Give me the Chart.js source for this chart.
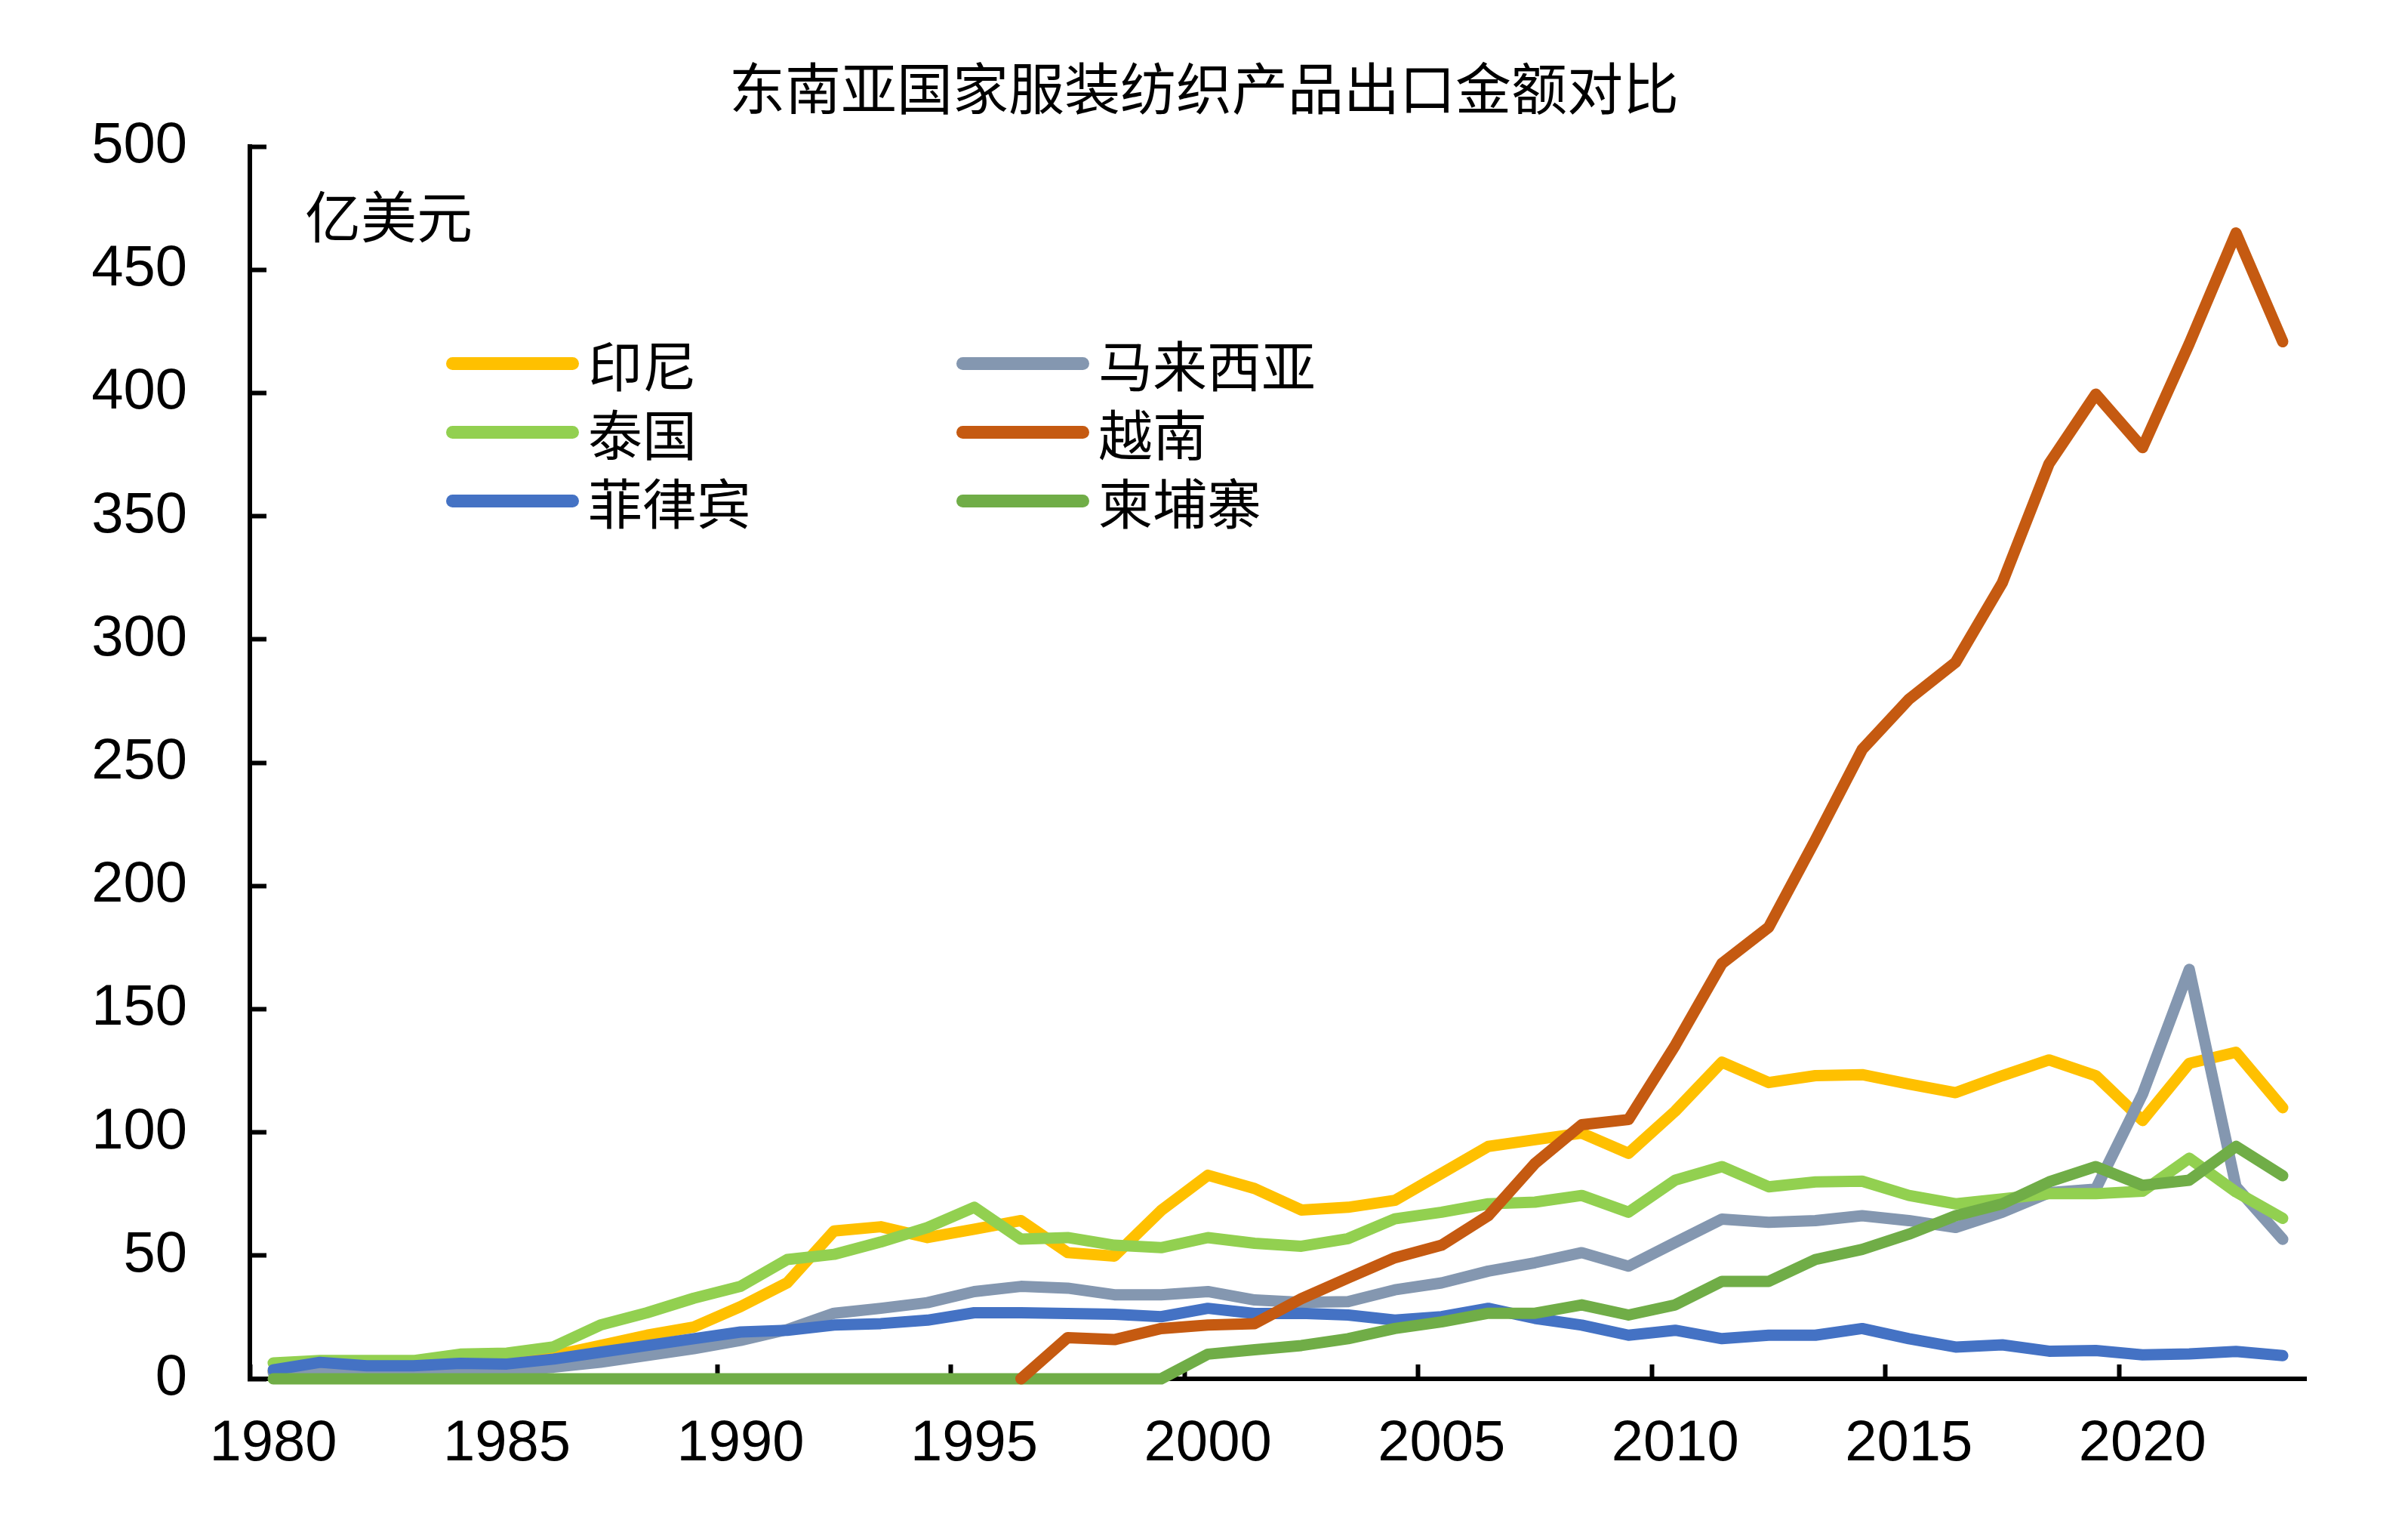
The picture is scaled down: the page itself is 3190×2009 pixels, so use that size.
<!DOCTYPE html>
<html>
<head>
<meta charset="utf-8">
<script src="https://cdn.jsdelivr.net/npm/chart.js@4.4.0/dist/chart.umd.min.js"></script>
<style>
  html, body { margin: 0; padding: 0; background: #fff; }
  #wrap { position: relative; width: 3190px; height: 2009px; }
  #chart { position: absolute; left: 0; top: 0; }
  .txt { position: absolute; font-family: 'Noto Sans CJK SC', sans-serif; color: #000; white-space: nowrap; line-height: 1; }
  #title { left: 0; width: 3190px; top: 76px; font-size: 74px; text-align: center; }
  #unit { left: 404px; top: 246px; font-size: 74px; }
  .lg-line { position: absolute; width: 176px; height: 17px; border-radius: 9px; }
  .lg-text { font-size: 72px; }
</style>
</head>
<body>
<div id="wrap">
  <canvas id="chart" width="3190" height="2009" style="width:3190px;height:2009px"></canvas>
  <div id="title" class="txt">东南亚国家服装纺织产品出口金额对比</div>
  <div id="unit" class="txt">亿美元</div>
</div>
<script>
// 年份（类别轴）
const years = [1980, 1981, 1982, 1983, 1984, 1985, 1986, 1987, 1988, 1989,
  1990, 1991, 1992, 1993, 1994, 1995, 1996, 1997, 1998, 1999,
  2000, 2001, 2002, 2003, 2004, 2005, 2006, 2007, 2008, 2009,
  2010, 2011, 2012, 2013, 2014, 2015, 2016, 2017, 2018, 2019,
  2020, 2021, 2022, 2023];

// 各国出口额（亿美元）
const indonesia = [3, 4, 5, 5, 6, 6.5, 9.5, 13.5, 17.7, 21,
  29.3, 39, 60, 61.7, 57.3, 60.7, 64.2, 51.2, 49.8, 68.3,
  82.6, 77.2, 68.5, 69.6, 72.4, 83.3, 94.3, 97, 99.7, 91.5,
  108.6, 128.5, 120.2, 123, 123.4, 119.6, 116.1, 123, 129.4, 123,
  104.8, 128, 132.5, 110];
const malaysia = [2.5, 3, 3, 3, 3, 3.3, 4.7, 6.7, 9.5, 12.2,
  15.6, 20, 26.6, 28.6, 30.9, 35.4, 37.5, 36.8, 34.1, 34.1,
  35.4, 32, 31, 31.3, 36.1, 38.9, 43.7, 47.1, 51.2, 45.7,
  55.3, 64.8, 63.5, 64.2, 66.2, 64.2, 61.4, 67.6, 75.5, 77,
  115.5, 166.1, 78, 56.6];
const thailand = [6.4, 7.4, 7.4, 7.4, 10, 10.4, 13, 21.8, 26.8, 32.7,
  37.5, 48.4, 50.5, 55.5, 61.4, 69.6, 56.7, 57.3, 54.2, 53.2,
  57.3, 55, 53.8, 56.9, 64.9, 67.6, 71, 71.7, 74.4, 67.6,
  80.6, 86.1, 77.9, 79.9, 80.2, 74.4, 71, 73, 75.1, 75.1,
  76.1, 89.5, 75.8, 65.1];
const vietnam = [null, null, null, null, null, null, null, null, null, null,
  null, null, null, null, null, null, 0, 16.7, 15.9, 20.4,
  21.8, 22.4, 32.5, 40.9, 49.1, 54.2, 66.2, 87.4, 103.1, 105.2,
  135.3, 168.5, 183.2, 218.7, 255.3, 275.7, 290.7, 323, 371.3, 399.5,
  377.8, 420, 464.9, 420.8];
const philippines = [3.6, 6.7, 5.3, 5.3, 6.3, 6, 8, 10.8, 13.5, 16.3,
  19, 19.7, 21.8, 22.4, 23.8, 26.8, 26.8, 26.5, 26.2, 25.2,
  28.6, 26.5, 26.6, 25.9, 23.8, 25.2, 28.6, 24.5, 21.8, 17.7,
  19.7, 16.3, 17.7, 17.7, 20.4, 16.3, 12.9, 13.8, 11.2, 11.5,
  9.7, 10.1, 11.1, 9.4];
const cambodia = [0, 0, 0, 0, 0, 0, 0, 0, 0, 0,
  0, 0, 0, 0, 0, 0, 0, 0, 0, 0,
  10, 11.8, 13.5, 16.3, 20.4, 23.1, 26.6, 26.6, 30, 25.9,
  30, 39.5, 39.5, 48.4, 52.5, 58.7, 66.2, 71, 79.9, 86.1,
  78.5, 80.6, 94.3, 82.4];

const yTicks = [0, 50, 100, 150, 200, 250, 300, 350, 400, 450, 500];

// 图例顺序：两列三行
const series = [
  { name: '印尼', data: indonesia, color: '#FFC000', order: 5 },
  { name: '马来西亚', data: malaysia, color: '#8497B0', order: 4 },
  { name: '泰国', data: thailand, color: '#92D050', order: 3 },
  { name: '越南', data: vietnam, color: '#C55A11', order: 0 },
  { name: '菲律宾', data: philippines, color: '#4472C4', order: 2 },
  { name: '柬埔寨', data: cambodia, color: '#70AD47', order: 1 }
];

const tickFont = { family: "'Liberation Sans', Arial, sans-serif", size: 76 };

const ctx = document.getElementById('chart').getContext('2d');
new Chart(ctx, {
  type: 'line',
  data: {
    labels: years,
    datasets: series.map(s => ({
      label: s.name,
      data: s.data,
      borderColor: s.color,
      backgroundColor: s.color,
      borderWidth: 15,
      borderCapStyle: 'round',
      borderJoinStyle: 'round',
      pointRadius: 0,
      tension: 0,
      clip: false,
      order: s.order
    }))
  },
  options: {
    responsive: false,
    devicePixelRatio: 1,
    animation: false,
    layout: { padding: { left: 0, right: 135, top: 194, bottom: 0 } },
    plugins: { legend: { display: false }, tooltip: { enabled: false }, title: { display: false } },
    scales: {
      x: {
        type: 'category',
        offset: true,
        afterFit: scale => { scale.height = 183; },
        grid: {
          offset: true,
          drawOnChartArea: false,
          tickLength: -19,
          tickWidth: 6,
          tickColor: c => (c.index % 5 === 0 ? '#000' : 'rgba(0,0,0,0)')
        },
        border: { display: true, color: '#000', width: 6 },
        ticks: {
          autoSkip: false,
          maxRotation: 0,
          padding: 60,
          color: '#000',
          font: tickFont,
          callback: (val, idx) => (idx % 5 === 0 ? String(years[idx]) : '')
        }
      },
      y: {
        min: 0,
        max: 500,
        afterFit: scale => { scale.width = 331; },
        afterBuildTicks: scale => { scale.ticks = yTicks.map(v => ({ value: v })); },
        grid: {
          drawOnChartArea: false,
          tickLength: -22,
          tickWidth: 6,
          tickColor: '#000'
        },
        border: { display: true, color: '#000', width: 6 },
        ticks: { padding: 105, color: '#000', font: tickFont }
      }
    }
  }
});

// 图例（放在绘图区内）
const wrap = document.getElementById('wrap');
const colX = [591, 1267];
const rowY = [481, 572, 663];
series.forEach((s, i) => {
  const cx = colX[i % 2];
  const cy = rowY[Math.floor(i / 2)];
  const line = document.createElement('div');
  line.className = 'lg-line';
  line.style.left = cx + 'px';
  line.style.top = (cy - 8) + 'px';
  line.style.background = s.color;
  wrap.appendChild(line);
  const t = document.createElement('div');
  t.className = 'txt lg-text';
  t.style.left = (cx + 188) + 'px';
  t.style.top = (cy - 36) + 'px';
  t.textContent = s.name;
  wrap.appendChild(t);
});
</script>
</body>
</html>
